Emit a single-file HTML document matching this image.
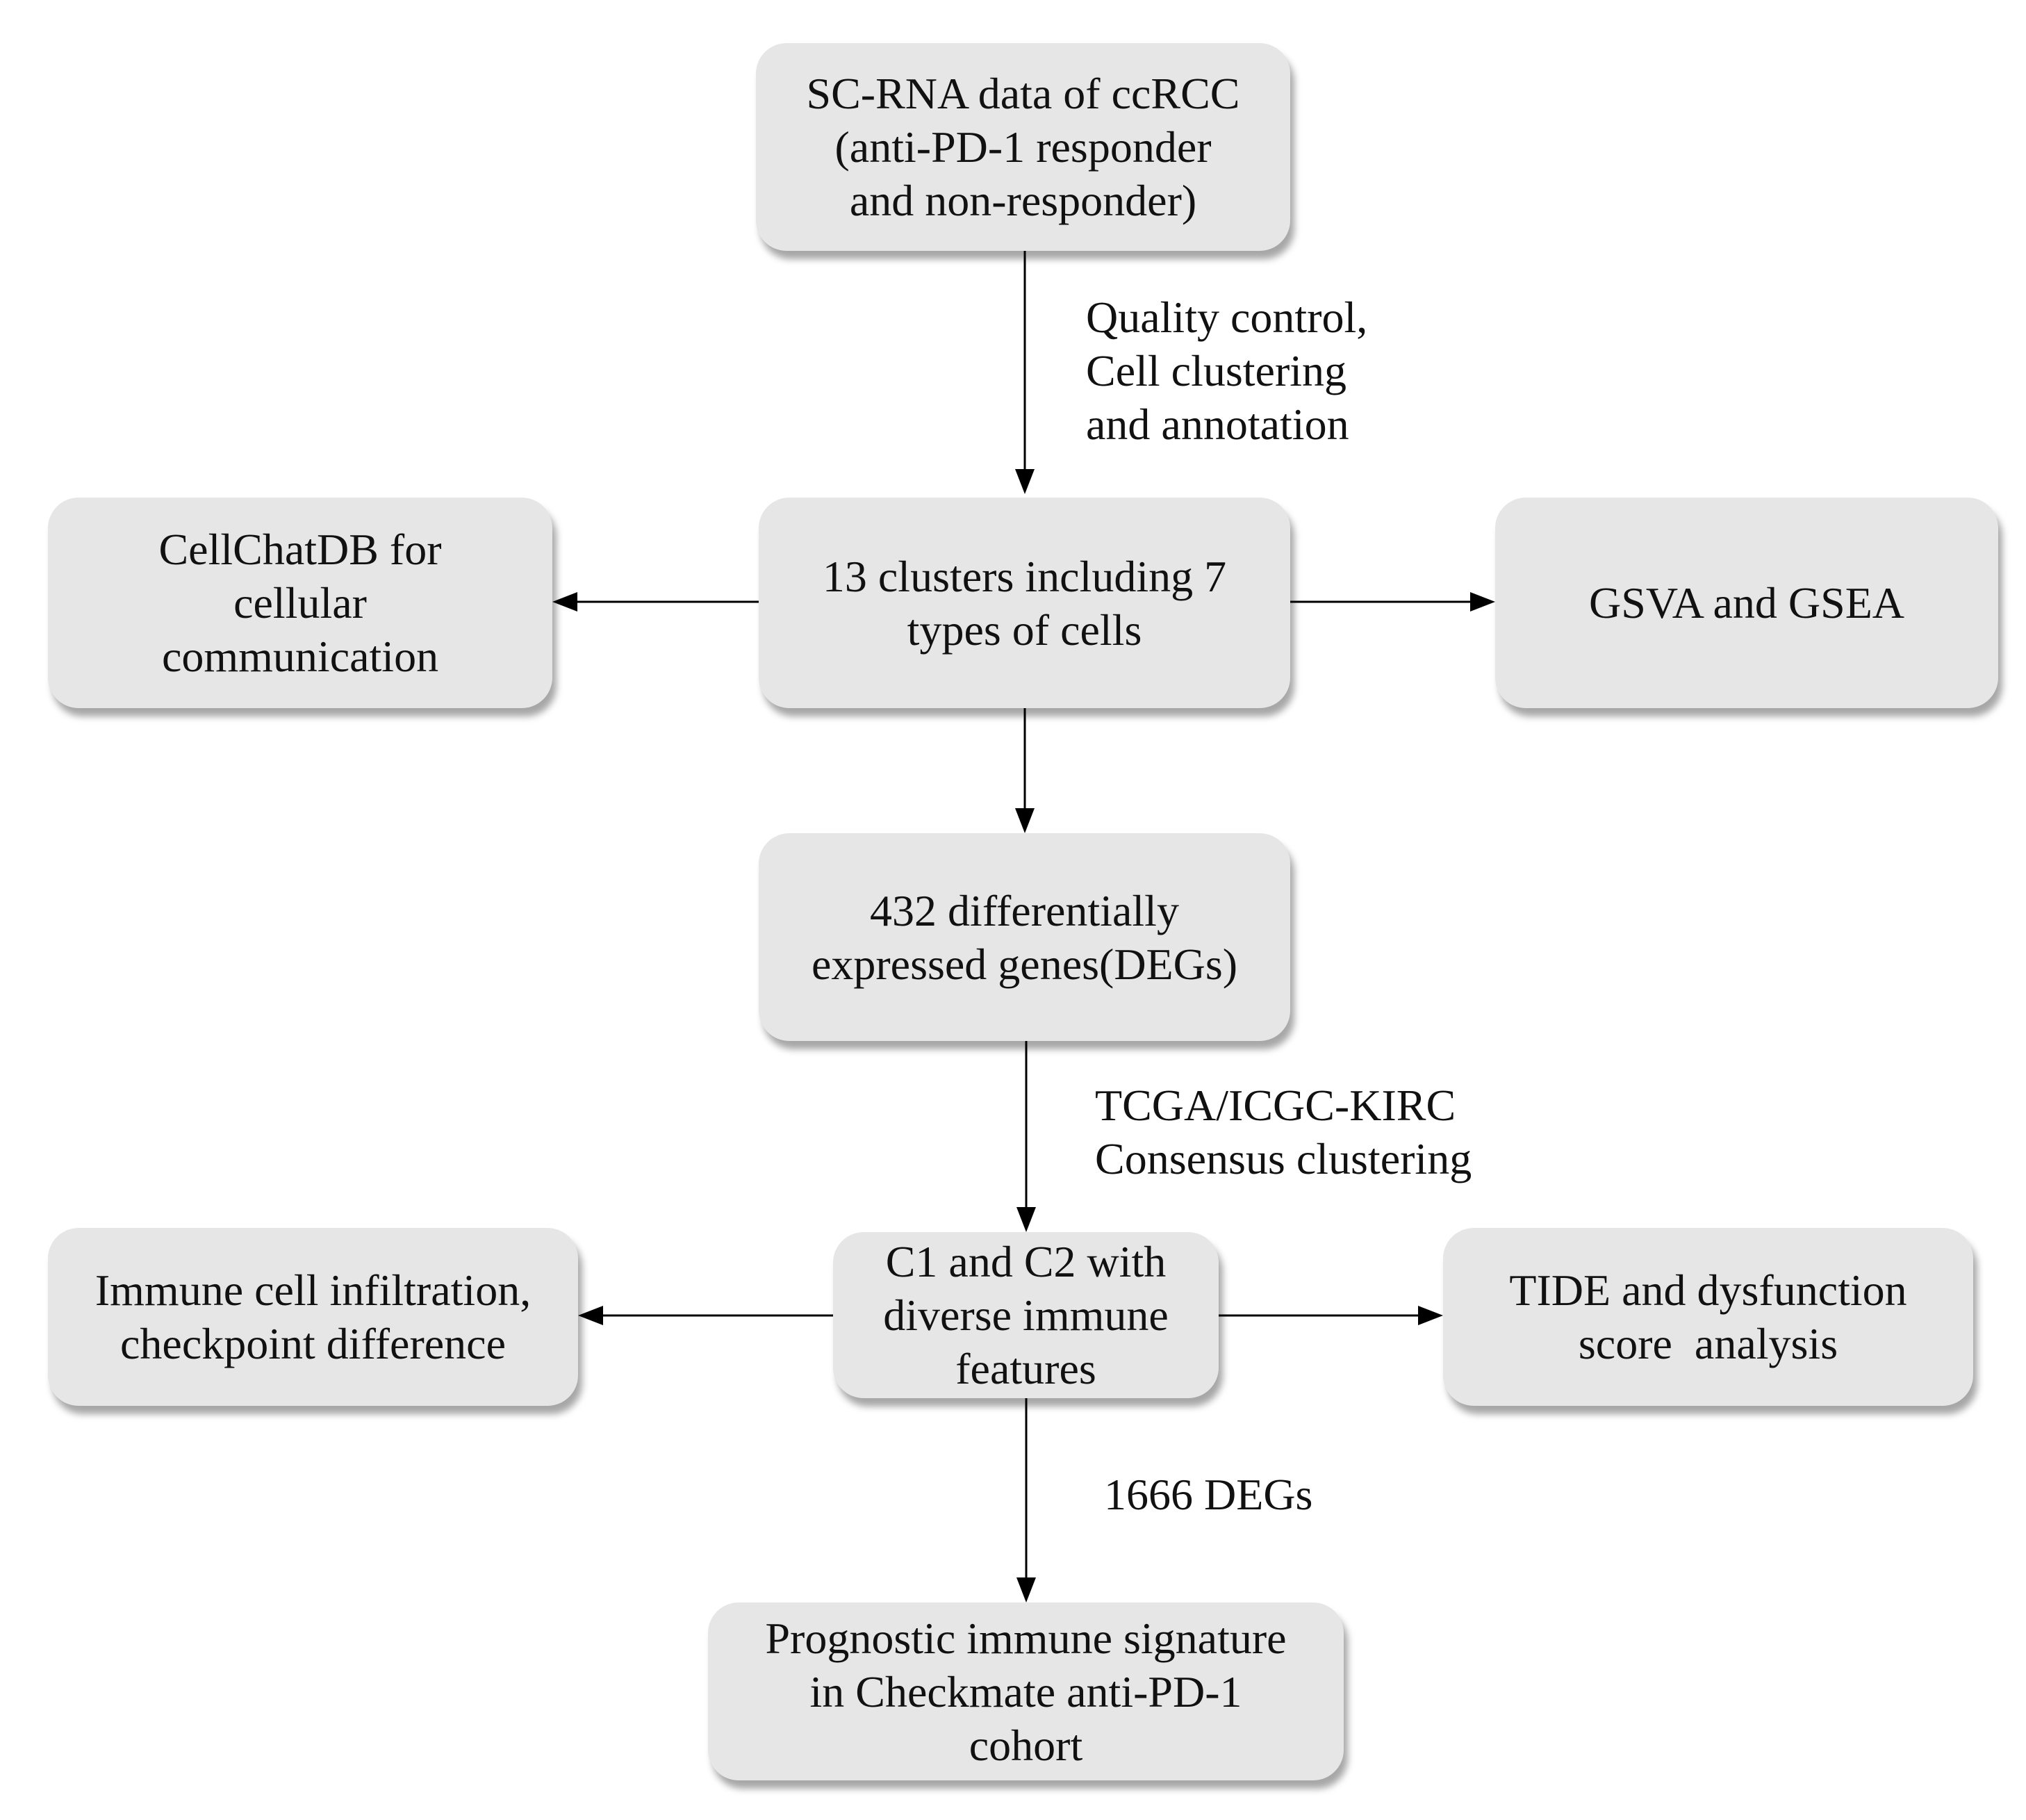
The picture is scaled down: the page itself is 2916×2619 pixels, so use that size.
<!DOCTYPE html>
<html><head><meta charset="utf-8"><style>
html,body{margin:0;padding:0;background:#fff}
body{width:2916px;height:2619px;position:relative;overflow:hidden;font-family:"Liberation Serif",serif;color:#111}
.b{position:absolute;background:#e7e6e6;border-radius:44px;box-shadow:6px 12px 10px rgba(0,0,0,0.35);display:flex;align-items:center;justify-content:center;text-align:center;font-size:64px;line-height:77px}
.l{position:absolute;font-size:64px;line-height:77px;white-space:nowrap}
svg{position:absolute;left:0;top:0}
</style></head><body>
<svg width="2916" height="2619">
<g stroke="#000" stroke-width="3" fill="none">
<line x1="1475" y1="361" x2="1475" y2="685"/>
<line x1="1092" y1="866" x2="825" y2="866"/>
<line x1="1857" y1="866" x2="2122" y2="866"/>
<line x1="1475" y1="1019" x2="1475" y2="1170"/>
<line x1="1477" y1="1498" x2="1477" y2="1745"/>
<line x1="1199" y1="1893" x2="862" y2="1893"/>
<line x1="1754" y1="1893" x2="2047" y2="1893"/>
<line x1="1477" y1="2012" x2="1477" y2="2278"/>
</g>
<g fill="#000">
<path d="M1461,675 L1489,675 L1475,711 z"/>
<path d="M831,852 L831,880 L795,866 z"/>
<path d="M2116,852 L2116,880 L2152,866 z"/>
<path d="M1461,1163 L1489,1163 L1475,1199 z"/>
<path d="M1463,1737 L1491,1737 L1477,1773 z"/>
<path d="M868,1879 L868,1907 L832,1893 z"/>
<path d="M2041,1879 L2041,1907 L2077,1893 z"/>
<path d="M1463,2270 L1491,2270 L1477,2306 z"/>
</g>
</svg>
<div class="b" style="left:1088px;top:62px;width:769px;height:299px">SC-RNA data of ccRCC<br>(anti-PD-1 responder<br>and non-responder)</div>
<div class="l" style="left:1563px;top:418px">Quality control,<br>Cell clustering<br>and annotation</div>
<div class="b" style="left:69px;top:716px;width:726px;height:303px">CellChatDB for<br>cellular<br>communication</div>
<div class="b" style="left:1092px;top:716px;width:765px;height:303px">13 clusters including 7<br>types of cells</div>
<div class="b" style="left:2152px;top:716px;width:724px;height:303px">GSVA and GSEA</div>
<div class="b" style="left:1092px;top:1199px;width:765px;height:299px">432 differentially<br>expressed genes(DEGs)</div>
<div class="l" style="left:1576px;top:1552px">TCGA/ICGC-KIRC<br>Consensus clustering</div>
<div class="b" style="left:69px;top:1767px;width:763px;height:256px">Immune cell infiltration,<br>checkpoint difference</div>
<div class="b" style="left:1199px;top:1773px;width:555px;height:239px">C1 and C2 with<br>diverse immune<br>features</div>
<div class="b" style="left:2077px;top:1767px;width:763px;height:256px">TIDE and dysfunction<br>score&nbsp; analysis</div>
<div class="l" style="left:1589px;top:2112px">1666 DEGs</div>
<div class="b" style="left:1019px;top:2306px;width:915px;height:256px">Prognostic immune signature<br>in Checkmate anti-PD-1<br>cohort</div>
</body></html>
